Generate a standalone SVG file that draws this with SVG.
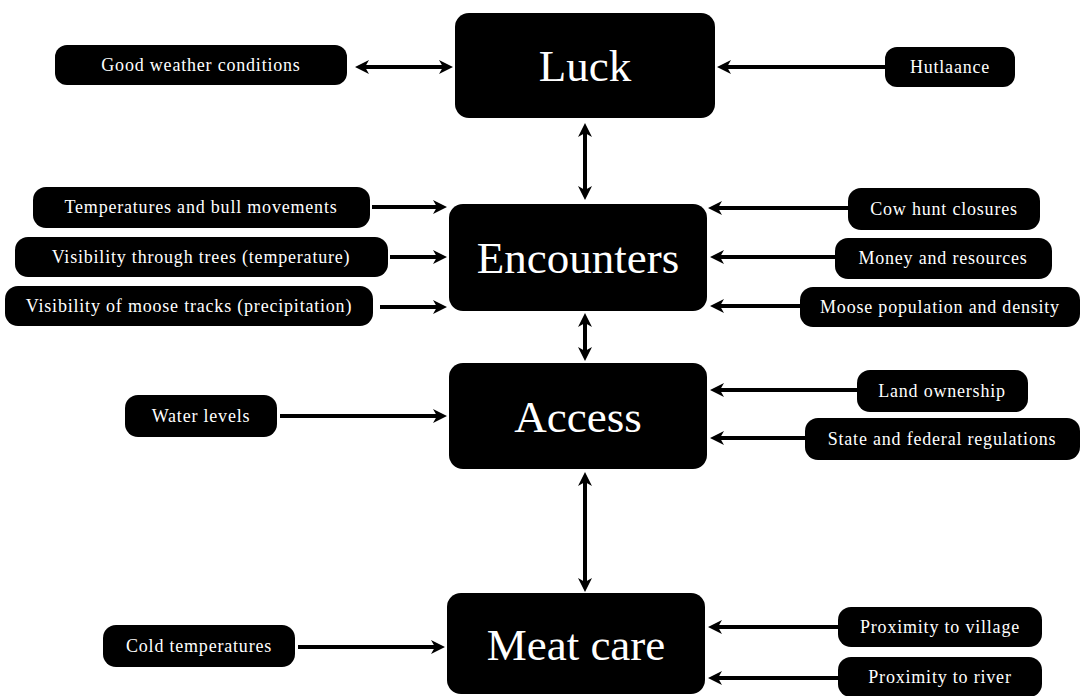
<svg xmlns="http://www.w3.org/2000/svg" width="1082" height="696" viewBox="0 0 1082 696">
<style>
.main rect{fill:#000}
.main text{fill:#fff;font-family:"Liberation Serif",serif;font-size:45px;text-anchor:middle}
.f rect{fill:#000}
.f text{fill:#fff;font-family:"Liberation Serif",serif;font-size:18px;letter-spacing:0.8px;text-anchor:middle}
#connectors line{stroke:#000;stroke-width:4;fill:none}
</style>
<defs>
<marker id="ah" viewBox="0 0 14 14" markerWidth="14" markerHeight="14" refX="10" refY="7" orient="auto-start-reverse" markerUnits="userSpaceOnUse">
<path d="M0,0 L14,7 L0,14 L4,7 z" fill="#000"/>
</marker>
</defs>
<rect width="1082" height="696" fill="#fff"/>

<g id="connectors">
<line x1="359" y1="67" x2="449" y2="67" marker-start="url(#ah)" marker-end="url(#ah)"/>
<line x1="885" y1="67" x2="721" y2="67" marker-end="url(#ah)"/>
<line x1="585" y1="127" x2="585" y2="196" marker-start="url(#ah)" marker-end="url(#ah)"/>
<line x1="372" y1="207" x2="443" y2="207" marker-end="url(#ah)"/>
<line x1="390" y1="257" x2="443" y2="257" marker-end="url(#ah)"/>
<line x1="380" y1="307" x2="443" y2="307" marker-end="url(#ah)"/>
<line x1="848" y1="208" x2="712" y2="208" marker-end="url(#ah)"/>
<line x1="835" y1="257" x2="714" y2="257" marker-end="url(#ah)"/>
<line x1="800" y1="306" x2="714" y2="306" marker-end="url(#ah)"/>
<line x1="585" y1="317" x2="585" y2="357" marker-start="url(#ah)" marker-end="url(#ah)"/>
<line x1="280" y1="416" x2="443" y2="416" marker-end="url(#ah)"/>
<line x1="857" y1="390" x2="714" y2="390" marker-end="url(#ah)"/>
<line x1="805" y1="438" x2="714" y2="438" marker-end="url(#ah)"/>
<line x1="585" y1="476" x2="585" y2="588" marker-start="url(#ah)" marker-end="url(#ah)"/>
<line x1="298" y1="647" x2="441" y2="647" marker-end="url(#ah)"/>
<line x1="838" y1="627" x2="712" y2="627" marker-end="url(#ah)"/>
<line x1="838" y1="678" x2="712" y2="678" marker-end="url(#ah)"/>
</g>

<g id="luck" class="main"><rect x="455" y="13" width="260" height="105" rx="14"/><text x="585" y="81">Luck</text></g>
<g id="encounters" class="main"><rect x="449" y="204" width="258" height="107" rx="14"/><text x="578" y="273">Encounters</text></g>
<g id="access" class="main"><rect x="449" y="363" width="258" height="106" rx="14"/><text x="578" y="432">Access</text></g>
<g id="meatcare" class="main"><rect x="447" y="593" width="258" height="101" rx="14"/><text x="576" y="660">Meat care</text></g>

<g id="good-weather" class="f"><rect x="55" y="45" width="292" height="40" rx="12"/><text x="201" y="71">Good weather conditions</text></g>
<g id="hutlaance" class="f"><rect x="885" y="47" width="130" height="40" rx="12"/><text x="950" y="73">Hutlaance</text></g>
<g id="temp-bull" class="f"><rect x="33" y="187" width="337" height="41" rx="13"/><text x="201" y="213">Temperatures and bull movements</text></g>
<g id="vis-trees" class="f"><rect x="15" y="237" width="373" height="40" rx="13"/><text x="201" y="263">Visibility through trees (temperature)</text></g>
<g id="vis-tracks" class="f"><rect x="5" y="286" width="368" height="40" rx="13"/><text x="189" y="312">Visibility of moose tracks (precipitation)</text></g>
<g id="cow-hunt" class="f"><rect x="848" y="188" width="192" height="42" rx="13"/><text x="944" y="215">Cow hunt closures</text></g>
<g id="money" class="f"><rect x="835" y="238" width="217" height="41" rx="13"/><text x="943" y="264">Money and resources</text></g>
<g id="moose-pop" class="f"><rect x="800" y="287" width="280" height="40" rx="13"/><text x="940" y="313">Moose population and density</text></g>
<g id="water" class="f"><rect x="125" y="395" width="152" height="42" rx="13"/><text x="201" y="422">Water levels</text></g>
<g id="land" class="f"><rect x="857" y="370" width="171" height="42" rx="13"/><text x="942" y="397">Land ownership</text></g>
<g id="state" class="f"><rect x="805" y="418" width="275" height="42" rx="13"/><text x="942" y="445">State and federal regulations</text></g>
<g id="cold" class="f"><rect x="103" y="625" width="192" height="42" rx="13"/><text x="199" y="652">Cold temperatures</text></g>
<g id="village" class="f"><rect x="838" y="607" width="204" height="40" rx="13"/><text x="940" y="633">Proximity to village</text></g>
<g id="river" class="f"><rect x="838" y="657" width="204" height="40" rx="13"/><text x="940" y="683">Proximity to river</text></g>
</svg>
